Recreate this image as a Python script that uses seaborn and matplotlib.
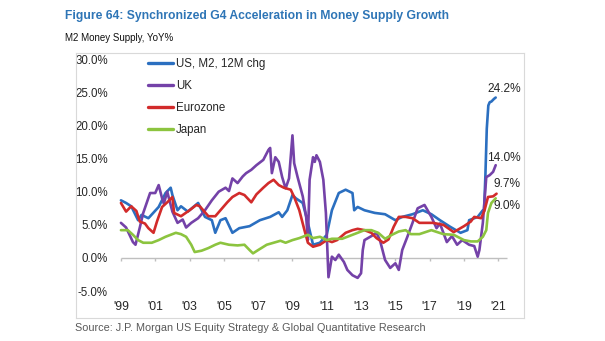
import matplotlib
matplotlib.use("Agg")
import matplotlib.pyplot as plt
import seaborn as sns
import pandas as pd

# ---------------- data ----------------
us_t = [1999.0, 1999.3, 1999.6, 2000.0, 2000.2, 2000.6, 2001.2, 2001.6, 2001.9, 2002.0,
        2002.3, 2002.5, 2002.9, 2003.5, 2003.9, 2004.3, 2004.5, 2004.8, 2005.1, 2005.5,
        2005.9, 2006.5, 2007.1, 2007.7, 2008.2, 2008.4, 2008.7, 2009.0, 2009.2, 2009.6,
        2009.9, 2010.2, 2010.6, 2011.0, 2011.3, 2011.7, 2012.1, 2012.5, 2012.6, 2012.8,
        2013.2, 2013.8, 2014.4, 2015.0, 2015.4, 2016.0, 2016.6, 2017.1, 2017.6, 2018.2,
        2018.8, 2019.2, 2019.3, 2019.8, 2020.1, 2020.17, 2020.25, 2020.33, 2020.42, 2020.5,
        2020.6, 2020.75, 2020.85]
us_v = [8.7, 8.3, 7.8, 5.7, 6.5, 6.0, 7.7, 9.8, 10.6, 9.5,
        7.2, 7.8, 7.0, 8.3, 6.2, 5.7, 3.8, 5.7, 6.0, 3.8,
        4.5, 4.8, 5.7, 6.2, 6.9, 6.2, 7.2, 9.5, 9.0, 8.3,
        5.3, 2.0, 2.3, 3.5, 7.2, 9.8, 10.3, 9.8, 7.2, 7.7,
        7.2, 6.8, 6.6, 5.7, 6.2, 6.6, 7.2, 6.6, 5.7, 4.7,
        3.8, 4.2, 5.7, 6.2, 7.2, 7.0, 12.5, 19.5, 23.0, 23.5,
        23.6, 24.0, 24.2]

uk_t = [1999.0, 1999.3, 1999.7, 1999.85, 2000.1, 2000.3, 2000.7, 2001.0, 2001.2, 2001.4,
        2001.5, 2001.7, 2002.0, 2002.3, 2002.6, 2002.8, 2003.1, 2003.5, 2003.9, 2004.3,
        2004.7, 2005.1, 2005.3, 2005.5, 2005.8, 2006.1, 2006.3, 2006.6, 2006.9, 2007.3,
        2007.6, 2007.7, 2007.8, 2008.0, 2008.2, 2008.4, 2008.6, 2008.8, 2009.0, 2009.1,
        2009.3, 2009.6, 2009.8, 2009.9, 2010.0, 2010.2, 2010.3, 2010.4, 2010.6, 2010.8,
        2010.95, 2011.1, 2011.3, 2011.5, 2011.7, 2012.0, 2012.2, 2012.5, 2012.8, 2013.0,
        2013.1, 2013.2, 2013.6, 2013.9, 2014.1, 2014.4, 2014.7, 2015.0, 2015.2, 2015.4,
        2015.7, 2016.0, 2016.3, 2016.7, 2017.1, 2017.4, 2017.6, 2018.0, 2018.3, 2018.6,
        2018.9, 2019.3, 2019.6, 2019.8, 2019.9, 2020.1, 2020.3, 2020.5, 2020.7, 2020.85]
uk_v = [5.3, 4.6, 2.4, 2.0, 4.6, 6.8, 9.8, 9.8, 11.0, 9.0,
        8.2, 10.0, 7.0, 5.3, 5.8, 4.6, 5.3, 6.0, 7.2, 8.7,
        10.0, 10.6, 10.1, 12.0, 11.3, 12.3, 12.8, 13.3, 14.0, 14.8,
        16.3, 16.6, 12.8, 15.2, 14.5, 12.2, 10.5, 12.0, 18.5, 14.3,
        12.2, 9.3, 6.2, 2.7, 11.8, 15.2, 14.5, 15.5, 14.5, 11.8,
        6.8, -2.9, 0.2, -0.3, 0.5, -0.6, -1.8, -2.6, -3.0, -2.3,
        1.2, 2.7, 3.3, 3.8, 2.7, -0.3, -1.5, -0.8, -1.8, 1.2,
        3.2, 5.3, 7.5, 8.0, 6.2, 4.5, 5.2, 2.4, 3.3, 2.0,
        2.7, 2.0, 1.8, 0.2, 1.2, 5.3, 12.2, 12.5, 13.0, 14.0]

ez_t = [1999.0, 1999.3, 1999.6, 1999.9, 2000.1, 2000.4, 2000.6, 2000.9, 2001.1, 2001.4,
        2001.7, 2002.0, 2002.1, 2002.5, 2003.0, 2003.4, 2003.6, 2004.1, 2004.5, 2004.8,
        2005.2, 2005.5, 2005.9, 2006.2, 2006.6, 2006.9, 2007.3, 2007.6, 2007.9, 2008.2,
        2008.5, 2008.9, 2009.1, 2009.4, 2009.7, 2009.9, 2010.2, 2010.6, 2011.0, 2011.3,
        2011.6, 2012.1, 2012.5, 2012.8, 2013.2, 2013.6, 2013.9, 2014.3, 2014.6, 2014.9,
        2015.2, 2015.6, 2016.0, 2016.4, 2016.7, 2017.2, 2017.8, 2018.4, 2019.0, 2019.4,
        2019.6, 2020.0, 2020.2, 2020.4, 2020.7, 2020.9]
ez_v = [8.3, 7.0, 7.8, 7.1, 5.5, 5.2, 4.5, 3.8, 5.5, 7.7,
        8.4, 9.2, 6.8, 6.3, 7.2, 8.0, 7.8, 6.3, 6.3, 7.2,
        8.4, 9.2, 9.8, 9.5, 8.4, 9.6, 10.6, 11.3, 11.8, 11.0,
        10.6, 10.3, 9.2, 7.2, 4.2, 2.3, 1.7, 2.0, 2.7, 2.4,
        2.7, 3.8, 4.2, 4.4, 4.2, 3.8, 3.0, 2.3, 2.8, 4.7,
        6.2, 6.2, 6.0, 5.3, 5.3, 5.3, 5.0, 3.9, 4.8, 5.5,
        6.2, 6.0, 7.2, 9.2, 9.3, 9.7]

jp_t = [1999.0, 1999.4, 1999.7, 2000.0, 2000.3, 2000.8, 2001.2, 2001.6, 2002.2, 2002.5,
        2002.8, 2003.1, 2003.3, 2003.7, 2004.1, 2004.5, 2004.8, 2005.3, 2005.8, 2006.2,
        2006.5, 2006.7, 2007.0, 2007.5, 2007.9, 2008.3, 2008.6, 2009.0, 2009.4, 2009.9,
        2010.2, 2010.6, 2011.0, 2011.3, 2011.9, 2012.2, 2012.8, 2013.2, 2013.6, 2014.0,
        2014.4, 2014.8, 2015.2, 2015.6, 2015.9, 2016.4, 2017.1, 2017.8, 2018.4, 2019.0,
        2019.4, 2019.8, 2020.1, 2020.3, 2020.4, 2020.6, 2020.85]
jp_v = [4.2, 4.2, 3.5, 2.7, 2.3, 2.3, 2.7, 3.2, 3.8, 3.6,
        3.2, 2.0, 0.9, 1.1, 1.5, 2.0, 2.3, 2.0, 1.9, 2.0,
        1.2, 0.7, 1.2, 2.0, 2.3, 2.6, 2.3, 2.7, 3.0, 3.5,
        3.0, 3.2, 2.7, 2.9, 2.9, 3.2, 3.8, 4.2, 4.2, 3.8,
        2.9, 3.5, 4.0, 4.2, 3.6, 3.6, 4.2, 3.6, 3.5, 2.7,
        2.5, 2.5, 3.2, 4.2, 6.8, 8.3, 9.0]

series_names = ["US, M2, 12M chg", "UK", "Eurozone", "Japan"]
series_colors = ["#2B6FC0", "#7442A8", "#D22B2B", "#8CC43F"]
end_labels = ["24.2%", "14.0%", "9.7%", "9.0%"]

y_ticks = [-5, 0, 5, 10, 15, 20, 25, 30]
x_ticks = [1999, 2001, 2003, 2005, 2007, 2009, 2011, 2013, 2015, 2017, 2019, 2021]
x_tick_labels = ["'99", "'01", "'03", "'05", "'07", "'09", "'11", "'13", "'15", "'17", "'19", "'21"]

title = "Figure 64: Synchronized G4 Acceleration in Money Supply Growth"
subtitle = "M2 Money Supply, YoY%"
source = "Source: J.P. Morgan US Equity Strategy & Global Quantitative Research"

# ---------------- build tidy frame ----------------
frames = []
for name, t, v in zip(series_names, [us_t, uk_t, ez_t, jp_t], [us_v, uk_v, ez_v, jp_v]):
    frames.append(pd.DataFrame({"year": t, "value": v, "series": name}))
df = pd.concat(frames, ignore_index=True)

# ---------------- style ----------------
sns.set_style("white")
plt.rcParams["font.family"] = ["Liberation Sans", "DejaVu Sans"]

W, H = 605, 341
fig = plt.figure(figsize=(W / 100, H / 100), dpi=100)
ax = fig.add_axes([76 / W, 23 / H, 448 / W, 265 / H])

sns.lineplot(data=df, x="year", y="value", hue="series", hue_order=series_names,
             palette=series_colors, estimator=None, sort=False, linewidth=1.9,
             ax=ax, legend=False)

ax.set_xlim(1996.38, 2022.5)
ax.set_ylim(-9.05, 30.92)

# zero axis line with small tick marks
ax.hlines(0, x_ticks[0], x_ticks[-1] + 0.5, color="#BFBFBF", lw=1.0, zorder=1)
ax.vlines(x_ticks, -0.5, 0, color="#BFBFBF", lw=1.0, zorder=1)

ax.set_yticks(y_ticks)
ax.set_yticklabels([f"{v:.1f}%" for v in y_ticks])
ax.set_xticks(x_ticks)
ax.set_xticklabels(x_tick_labels)
ax.tick_params(axis="y", length=0, pad=-23, labelsize=8.3, labelcolor="#262626")
ax.tick_params(axis="x", length=0, pad=-12, labelsize=8.8, labelcolor="#262626")
ax.set_xlabel("")
ax.set_ylabel("")
for s in ax.spines.values():
    s.set_color("#D9D9D9")
    s.set_linewidth(0.8)

# legend
handles = ax.get_lines()[:4]
leg = fig.legend(handles, series_names, loc="upper left",
                 bbox_to_anchor=(148 / W, 1 - 58.5 / H), bbox_transform=fig.transFigure,
                 frameon=False, fontsize=8.3, handlelength=2.2, handletextpad=0.2,
                 labelspacing=0.86, borderpad=0, borderaxespad=0)
for lh in leg.get_lines():
    lh.set_linewidth(2.4)
for tx in leg.get_texts():
    tx.set_color("#262626")

# end labels
label_pos = [(2021.33, 25.5), (2021.33, 15.1), (2021.5, 11.2), (2021.5, 7.8)]
for txt, (lx, ly) in zip(end_labels, label_pos):
    ax.text(lx, ly, txt, ha="center", va="center", fontsize=8.6, color="#262626")

fig.text(65 / W, 1 - 15.5 / H, title, ha="left", va="center", fontsize=8.7,
         fontweight="bold", color="#2E75B6")
fig.text(65 / W, 1 - 38 / H, subtitle, ha="left", va="center", fontsize=7.0, color="#111111")
fig.text(75 / W, 1 - 328 / H, source, ha="left", va="center", fontsize=7.8, color="#595959")

fig.savefig("out.png", dpi=100)
